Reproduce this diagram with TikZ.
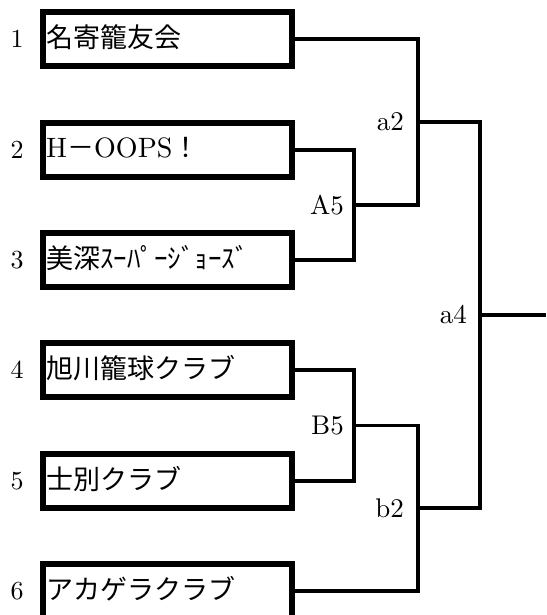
\documentclass[tikz,border=0pt]{standalone}
\usepackage{fontspec}
\newfontfamily\cjk{Noto Sans CJK JP}
\newfontfamily\lmten{lmroman10-regular}[Extension=.otf]
\begin{document}
\begin{tikzpicture}[x=1pt,y=-1pt,
  box/.style={draw,line width=6pt,minimum width=249pt,minimum height=54pt,inner sep=0pt},
  team/.style={anchor=west,inner sep=0pt,font=\cjk\fontsize{27}{30}\selectfont},
  num/.style={inner sep=0pt,font=\lmten\fontsize{26}{30}\selectfont},
  lab/.style={anchor=east,inner sep=0pt,font=\lmten\fontsize{27}{30}\selectfont},
  conn/.style={line width=3.2pt,line join=miter,line cap=butt}]
\useasboundingbox (0,0) rectangle (546,615);
\fill[white] (0,0) rectangle (546,615);
\clip (0,0) rectangle (546,615);

% boxes
\node[box] (b1) at (167.5,39) {};
\node[box] (b2) at (167.5,150) {};
\node[box] (b3) at (167.5,260) {};
\node[box] (b4) at (167.5,370) {};
\node[box] (b5) at (167.5,481) {};
\node[box] (b6) at (167.5,591) {};

% team names
\node[team] (t1) at (46,37) {名寄籠友会};
\node[team] (t2) at (46,148) {{\lmten\fontsize{28}{30}\selectfont H}－{\lmten\fontsize{28}{30}\selectfont OOPS}！};
\node[team] (t3) at (46,258) {美深ｽｰﾊﾟｰｼﾞｮｰｽﾞ};
\node[team] (t4) at (46,368) {旭川籠球クラブ};
\node[team] (t5) at (46,479) {士別クラブ};
\node[team] (t6) at (46,589) {アカゲラクラブ};

% seed numbers
\node[num] (n1) at (17,39) {1};
\node[num] (n2) at (17,150) {2};
\node[num] (n3) at (17,260) {3};
\node[num] (n4) at (17,370) {4};
\node[num] (n5) at (17,481) {5};
\node[num] (n6) at (17,591) {6};

% junctions
\coordinate (jA5) at (354,205);
\coordinate (ja2) at (418,122);
\coordinate (jB5) at (354,425.5);
\coordinate (jb2) at (418,508);
\coordinate (ja4) at (480,315);
\coordinate (fin) at (546,315);

\draw[conn] (b2.east) -| (jA5) |- (b3.east);
\draw[conn] (b1.east) -| (ja2) |- (jA5);
\draw[conn] (b4.east) -| (jB5) |- (b5.east);
\draw[conn] (jB5) -| (jb2) |- (b6.east);
\draw[conn] (ja2) -| (ja4) |- (jb2);
\draw[conn] (ja4) -- (fin);

% match labels
\node[lab] (la2) at ([xshift=-14pt]ja2) {a2};
\node[lab] (lA5) at ([xshift=-10pt]jA5) {A5};
\node[lab] (lB5) at ([xshift=-10pt]jB5) {B5};
\node[lab] (lb2) at ([xshift=-14pt]jb2) {b2};
\node[lab] (la4) at ([xshift=-13pt]ja4) {a4};
\end{tikzpicture}
\end{document}
